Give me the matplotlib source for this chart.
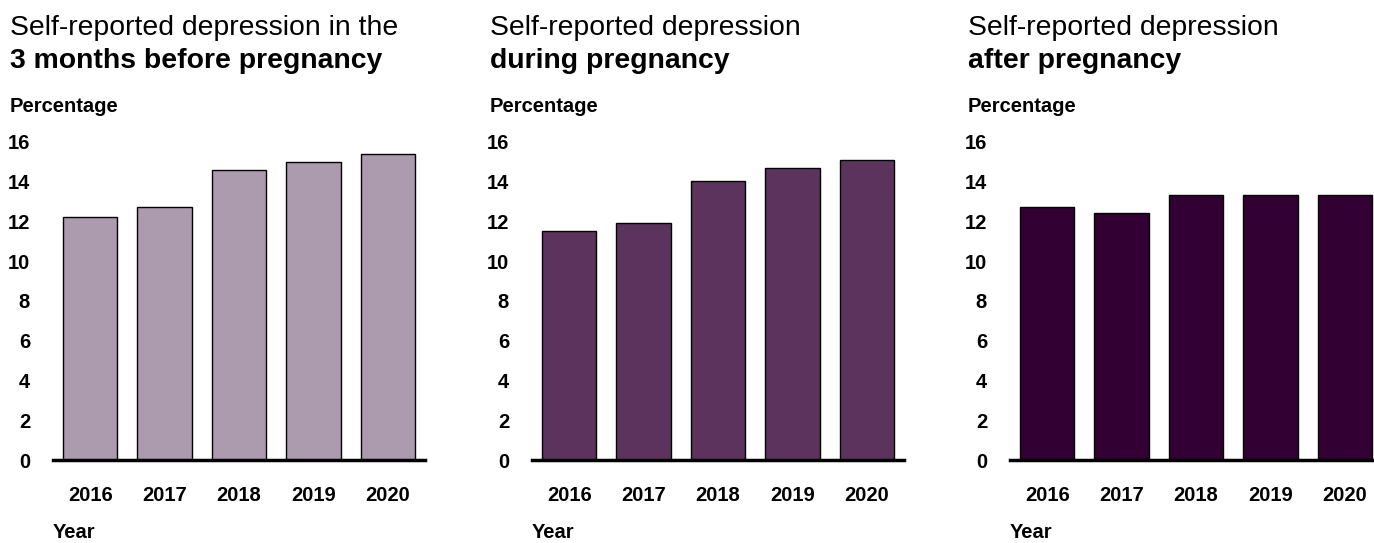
import matplotlib
matplotlib.use("Agg")
import matplotlib.pyplot as plt

plt.rcParams['font.family'] = ['Liberation Sans', 'DejaVu Sans']

years = ["2016", "2017", "2018", "2019", "2020"]
before = [12.2, 12.7, 14.6, 15.0, 15.4]
during = [11.5, 11.9, 14.0, 14.7, 15.1]
after = [12.7, 12.4, 13.3, 13.3, 13.3]

titles_line1 = ["Self-reported depression in the", "Self-reported depression", "Self-reported depression"]
titles_line2 = ["3 months before pregnancy", "during pregnancy", "after pregnancy"]
colors = ["#AC9AAE", "#5C335C", "#330033"]
series = [before, during, after]
yticks = [0, 2, 4, 6, 8, 10, 12, 14, 16]

W, H = 1374, 543
fig = plt.figure(figsize=(W / 100, H / 100), dpi=100)

ax_left = [53, 532, 1010]
text_left = [10, 490, 968]
ax_w = 372
y0_px, y16_px = 460, 141.7

for i in range(3):
    ax = fig.add_axes([ax_left[i] / W, (H - y0_px) / H, ax_w / W, (y0_px - y16_px) / H])
    ax.bar(range(len(years)), series[i], width=0.73, color=colors[i],
           edgecolor="black", linewidth=1.0, zorder=2)
    ax.set_xlim(-0.5, 4.5)
    ax.set_ylim(0, 16)
    ax.set_yticks(yticks)
    ax.set_yticklabels([str(v) for v in yticks], fontsize=14.5, fontweight="bold")
    ax.set_xticks(range(len(years)))
    ax.set_xticklabels(years, fontsize=14.5, fontweight="bold")
    ax.tick_params(axis="y", length=0, pad=16.5)
    ax.tick_params(axis="x", length=0, pad=19)
    for s in ["top", "right", "left"]:
        ax.spines[s].set_visible(False)
    ax.spines["bottom"].set_linewidth(2.5)
    ax.spines["bottom"].set_zorder(3)
    ax.patch.set_alpha(0)

    fig.text(text_left[i] / W, 1 - 35 / H, titles_line1[i], fontsize=20.4,
             ha="left", va="baseline")
    fig.text(text_left[i] / W, 1 - 68 / H, titles_line2[i], fontsize=20.4,
             fontweight="bold", ha="left", va="baseline")
    fig.text(text_left[i] / W, 1 - 112 / H, "Percentage", fontsize=14.5,
             fontweight="bold", ha="left", va="baseline")
    fig.text(ax_left[i] / W, 1 - 538 / H, "Year", fontsize=14.5,
             fontweight="bold", ha="left", va="baseline")

fig.savefig("out.png", dpi=100)
